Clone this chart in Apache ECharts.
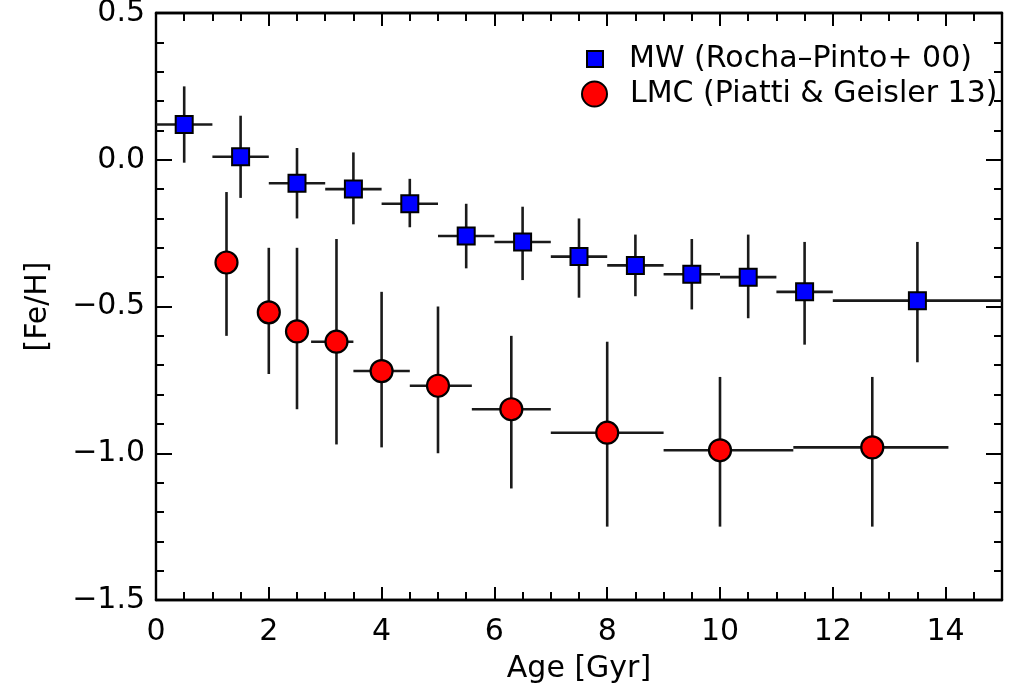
<!DOCTYPE html>
<html><head><meta charset="utf-8">
<script src="https://cdn.jsdelivr.net/npm/echarts/dist/echarts.min.js"></script>
<style>html,body{margin:0;padding:0;background:#fff}#c{width:1012px;height:690px}</style>
</head><body><div id="c"></div><script>
// ---- Data ----
const mwName = 'MW (Rocha\u2013Pinto+ 00)';
const lmcName = 'LMC (Piatti & Geisler 13)';

const mwAge     = [0.5, 1.5, 2.5, 3.5, 4.5, 5.5, 6.5, 7.5, 8.5, 9.5, 10.5, 11.5, 13.5];
const mwFeH     = [0.12, 0.01, -0.08, -0.10, -0.15, -0.26, -0.28, -0.33, -0.36, -0.39, -0.40, -0.45, -0.48];
const mwFeHLow  = [-0.01, -0.13, -0.20, -0.22, -0.23, -0.37, -0.41, -0.47, -0.465, -0.51, -0.54, -0.63, -0.69];
const mwFeHHigh = [0.25, 0.15, 0.04, 0.025, -0.065, -0.15, -0.16, -0.20, -0.255, -0.27, -0.255, -0.28, -0.28];
const mwAgeLow  = [0, 1, 2, 3, 4, 5, 6, 7, 8, 9, 10, 11, 12];
const mwAgeHigh = [1, 2, 3, 4, 5, 6, 7, 8, 9, 10, 11, 12, 15];

const lmcAge     = [1.25, 2.0, 2.5, 3.2, 4.0, 5.0, 6.3, 8.0, 10.0, 12.7];
const lmcFeH     = [-0.35, -0.52, -0.585, -0.62, -0.72, -0.77, -0.85, -0.93, -0.99, -0.98];
const lmcFeHLow  = [-0.60, -0.73, -0.85, -0.97, -0.98, -1.00, -1.12, -1.25, -1.25, -1.25];
const lmcFeHHigh = [-0.11, -0.30, -0.30, -0.27, -0.45, -0.50, -0.60, -0.62, -0.74, -0.74];
const lmcAgeLow  = [1.25, 2.0, 2.5, 2.75, 3.5, 4.5, 5.6, 7.0, 9.0, 11.3];
const lmcAgeHigh = [1.25, 2.0, 2.5, 3.5, 4.5, 5.6, 7.0, 9.0, 11.3, 14.05];

const xTickLabels = [0, 2, 4, 6, 8, 10, 12, 14];
const yTickLabels = [-1.5, -1.0, -0.5, 0.0, 0.5];

// ---- Build ----
const FONT = 'DejaVu Sans';
const mwErrData = mwAge.map((a, i) => [a, mwFeH[i], mwAgeLow[i], mwAgeHigh[i], mwFeHLow[i], mwFeHHigh[i]]);
const lmcErrData = lmcAge.map((a, i) => [a, lmcFeH[i], lmcAgeLow[i], lmcAgeHigh[i], lmcFeHLow[i], lmcFeHHigh[i]]);

function errRender(params, api) {
  const x = api.value(0), y = api.value(1);
  const xl = api.value(2), xh = api.value(3), yl = api.value(4), yh = api.value(5);
  const a = api.coord([x, yl]), b = api.coord([x, yh]);
  const c = api.coord([xl, y]), d = api.coord([xh, y]);
  const st = { stroke: '#1a1a1a', lineWidth: 2.6 };
  const children = [
    { type: 'line', shape: { x1: a[0], y1: a[1], x2: b[0], y2: b[1] }, style: st }
  ];
  if (xh > xl) children.push({ type: 'line', shape: { x1: c[0], y1: c[1], x2: d[0], y2: d[1] }, style: st });
  return { type: 'group', children };
}

const tickStyle = { color: '#000', width: 2 };
const lineStyle = { color: '#000', width: 2.4 };
function xAx(pos, interval, len, labels, extra) {
  return Object.assign({
    type: 'value', position: pos, min: 0, max: 15, interval: interval,
    axisLine: { show: true, onZero: false, lineStyle: lineStyle },
    axisTick: { show: true, inside: true, length: len, lineStyle: tickStyle },
    axisLabel: labels ? {
      show: true, color: '#000', fontFamily: FONT, fontSize: 30, margin: 17,
      showMaxLabel: false,
      formatter: v => (xTickLabels.indexOf(v) >= 0 ? String(v) : '')
    } : { show: false },
    splitLine: { show: false }
  }, extra || {});
}
function yAx(pos, labels, extra) {
  return Object.assign({
    type: 'value', position: pos, min: -1.5, max: 0.5, interval: 0.5,
    axisLine: { show: true, onZero: false, lineStyle: lineStyle },
    axisTick: { show: true, inside: true, length: 16, lineStyle: tickStyle },
    minorTick: { show: true, splitNumber: 5, length: 8, lineStyle: tickStyle },
    axisLabel: labels ? {
      show: true, color: '#000', fontFamily: FONT, fontSize: 30, margin: 11,
      formatter: v => {
        const t = yTickLabels.find(q => Math.abs(q - v) < 1e-9);
        if (t === undefined) return '';
        return (t < 0 ? '\u2212' : '') + Math.abs(t).toFixed(1);
      }
    } : { show: false },
    splitLine: { show: false }, minorSplitLine: { show: false }
  }, extra || {});
}

const chart = echarts.init(document.getElementById('c'), null, { renderer: 'canvas' });
chart.setOption({
  animation: false,
  backgroundColor: '#fff',
  grid: { left: 156, right: 10, top: 13, bottom: 90, containLabel: false, outerBoundsMode: 'none' },
  xAxis: [
    xAx('bottom', 2, 13, true, {
      name: 'Age [Gyr]', nameLocation: 'middle', nameGap: 54,
      nameTextStyle: { color: '#000', fontFamily: FONT, fontSize: 30 }
    }),
    xAx('bottom', 0.5, 8, false),
    xAx('top', 2, 13, false),
    xAx('top', 0.5, 8, false)
  ],
  yAxis: [
    yAx('left', true, {
      name: '[Fe/H]', nameLocation: 'middle', nameGap: 103, nameRotate: 90,
      nameTextStyle: { color: '#000', fontFamily: FONT, fontSize: 30 }
    }),
    yAx('right', false)
  ],
  legend: [
    {
      data: [mwName], left: 586, top: 44, orient: 'vertical', padding: 0,
      itemWidth: 16, itemHeight: 16,
      textStyle: { color: '#000', fontFamily: FONT, fontSize: 30, lineHeight: 30, padding: [0, 0, 0, 21] }
    },
    {
      data: [lmcName], left: 581, top: 79, orient: 'vertical', padding: 0,
      itemWidth: 25, itemHeight: 25,
      textStyle: { color: '#000', fontFamily: FONT, fontSize: 30, lineHeight: 30, padding: [0, 0, 0, 18] }
    }
  ],
  series: [
    { type: 'custom', name: 'mwErr', xAxisIndex: 0, yAxisIndex: 0, renderItem: errRender,
      data: mwErrData, encode: { x: [0, 2, 3], y: [1, 4, 5] }, clip: true, z: 2, silent: true },
    { type: 'custom', name: 'lmcErr', xAxisIndex: 0, yAxisIndex: 0, renderItem: errRender,
      data: lmcErrData, encode: { x: [0, 2, 3], y: [1, 4, 5] }, clip: true, z: 2, silent: true },
    { type: 'scatter', name: mwName, xAxisIndex: 0, yAxisIndex: 0, symbol: 'rect', symbolSize: 17,
      itemStyle: { color: '#0000ff', borderColor: '#000', borderWidth: 2, opacity: 1 },
      data: mwAge.map((a, i) => [a, mwFeH[i]]), z: 5 },
    { type: 'scatter', name: lmcName, xAxisIndex: 0, yAxisIndex: 0, symbol: 'circle', symbolSize: 22,
      itemStyle: { color: '#ff0000', borderColor: '#000', borderWidth: 2.2, opacity: 1 },
      data: lmcAge.map((a, i) => [a, lmcFeH[i]]), z: 5 }
  ]
});
</script></body></html>
